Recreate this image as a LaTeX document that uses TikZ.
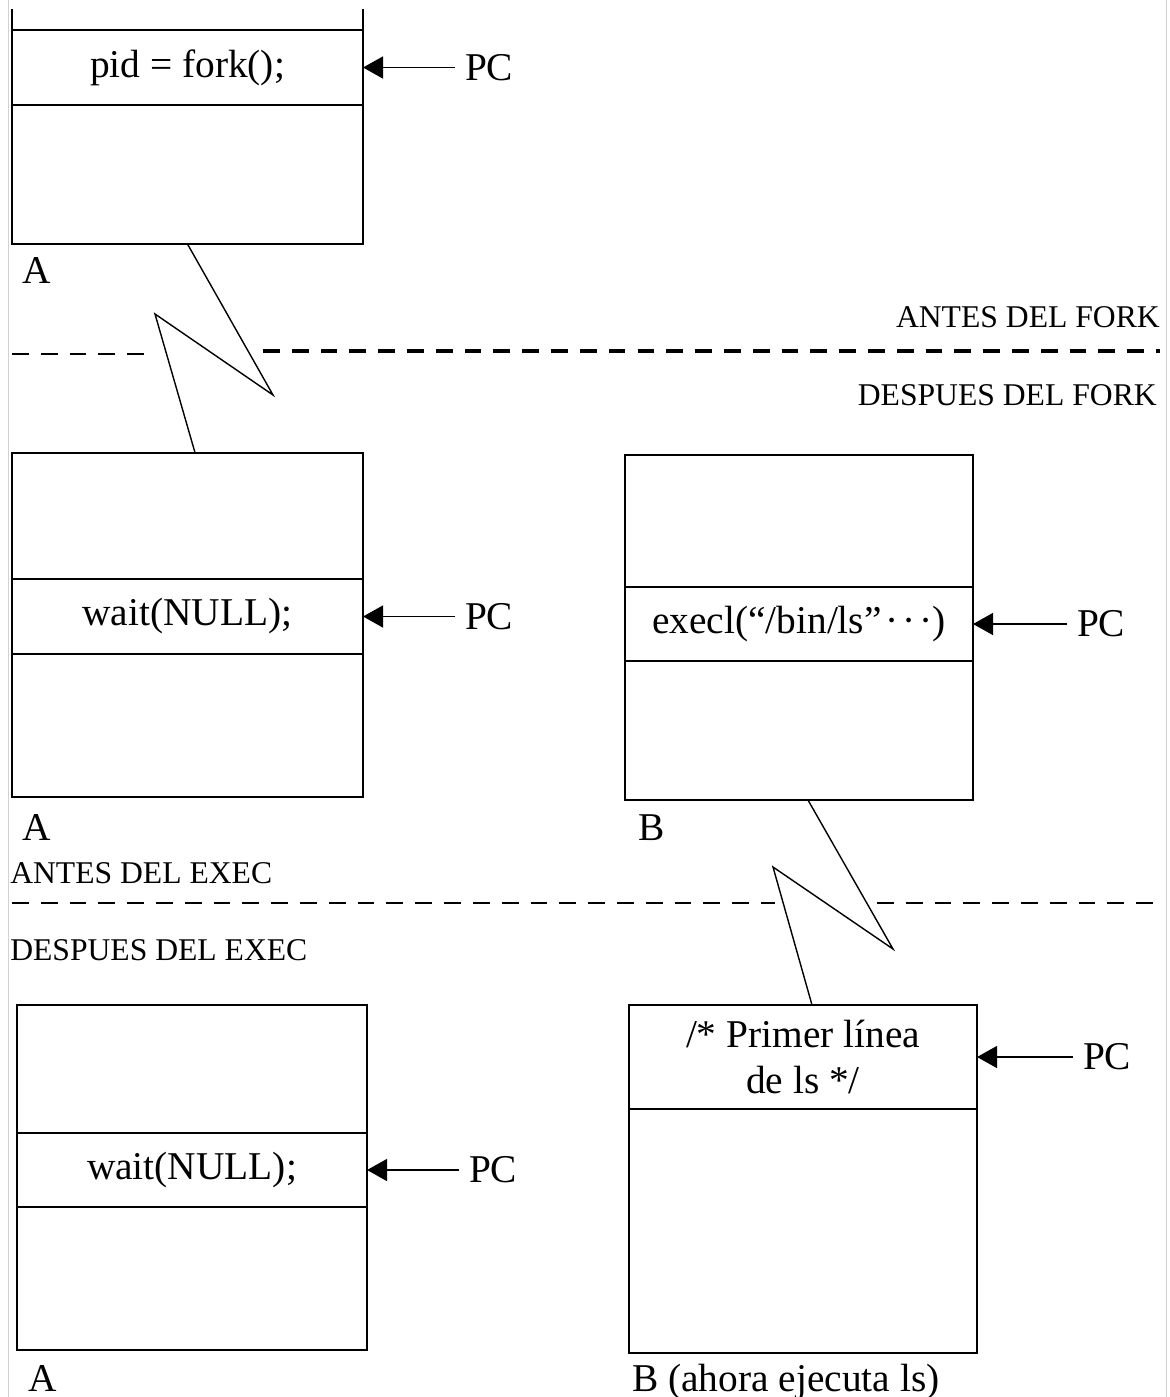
\documentclass[tikz,border=0pt]{standalone}
\usepackage{fontspec}
\setmainfont{Liberation Serif}
\usetikzlibrary{arrows.meta, positioning}
\tikzset{
  seg/.style={draw=black, line width=1.1pt, inner sep=0pt, outer sep=0pt, minimum width=#1},
  seg/.default=8.775cm,
  code/.style={font=\fontsize{28}{33}\selectfont, align=center},
  pc/.style={font=\fontsize{28}{33}\selectfont, inner ysep=0pt, inner xsep=0.25cm, outer sep=0pt},
  pcarrow/.style={-{Triangle[length=0.5cm, width=0.55cm]}, line width=1.1pt},
  tag/.style={font=\fontsize{28}{33}\selectfont, inner sep=0pt},
  phase/.style={font=\fontsize{22.5}{27}\selectfont, inner sep=0pt},
  zigzag/.style={line width=1pt},
  divider/.style={dash pattern=on 0.42cm off 0.3cm, line width=0.9pt},
  frame/.style={draw=gray!35, line width=0.6pt},
}
\begin{document}
\begin{tikzpicture}[x=0.025cm, y=-0.025cm, node distance=0pt]
  \useasboundingbox (0,0) rectangle (1170,1397);
  \draw[frame] (8,0) -- (8,1397);
  \draw[frame] (1166,0) -- (1166,1397);

  % A antes del fork
  \node[seg, code, minimum height=1.875cm] (a1code) at (187.5,67.5) {pid = fork();};
  \node[seg, minimum height=3.475cm, below=of a1code] (a1low) {};
  \draw[line width=1.1pt] (a1code.north west) -- ++(0,-21);
  \draw[line width=1.1pt] (a1code.north east) -- ++(0,-21);
  \node[pc, right=2.3cm of a1code] (pc1) {PC};
  \draw[pcarrow] (pc1) -- (a1code);
  \node[tag, anchor=base west] (a1name) at (22,283) {A};

  \node[phase, anchor=base east] (antesfork) at (1160,327) {ANTES DEL FORK};
  \draw[divider] (12,354) -- (155,354);
  \draw[divider, line width=2.4pt] (263,351) -- (1160,351);
  \node[phase, anchor=base east] (despuesfork) at (1157,405) {DESPUES DEL FORK};

  % A y B despues del fork
  \node[seg, code, minimum height=1.875cm] (a2code) at (187.5,616.5) {wait(NULL);};
  \node[seg, minimum height=3.15cm, above=of a2code] (a2top) {};
  \node[seg, minimum height=3.575cm, below=of a2code] (a2low) {};
  \node[pc, right=2.3cm of a2code] (pc2) {PC};
  \draw[pcarrow] (pc2) -- (a2code);
  \node[tag, anchor=base west] (a2name) at (22,840) {A};

  \node[seg=8.7cm, code, minimum height=1.85cm] (b1code) at (799,624) {execl(“/bin/ls”\hspace{0.1em}·\hspace{0.1em}·\hspace{0.1em}·)};
  \node[seg=8.7cm, minimum height=3.3cm, above=of b1code] (b1top) {};
  \node[seg=8.7cm, minimum height=3.475cm, below=of b1code] (b1low) {};
  \node[pc, right=2.35cm of b1code] (pc3) {PC};
  \draw[pcarrow] (pc3) -- (b1code);
  \node[tag, anchor=base west] (b1name) at (638,840) {B};

  % fork: A -> A
  \coordinate (z1b) at (273,395);
  \coordinate (z1c) at (155,314);
  \draw[zigzag] (a1low.south) -- (z1b) -- (z1c) -- ([xshift=0.19cm]a2top.north);

  \node[phase, anchor=base west] (antesexec) at (10,883) {ANTES DEL EXEC};
  \draw[divider] (12,903) -- (775,903);
  \draw[divider] (877,903) -- (1165,903);
  \node[phase, anchor=base west] (despuesexec) at (10,960) {DESPUES DEL EXEC};

  % A y B despues del exec
  \node[seg=8.75cm, code, minimum height=1.85cm] (a3code) at (192,1170) {wait(NULL);};
  \node[seg=8.75cm, minimum height=3.2cm, above=of a3code] (a3top) {};
  \node[seg=8.75cm, minimum height=3.575cm, below=of a3code] (a3low) {};
  \node[pc, right=2.3cm of a3code] (pc5) {PC};
  \draw[pcarrow] (pc5) -- (a3code);
  \node[tag, anchor=base west] (a3name) at (28,1391) {A};

  \node[seg=8.7cm, code, minimum height=2.6cm] (b2code) at (803,1057) {/* Primer línea\\de ls */};
  \node[seg=8.7cm, minimum height=6.1cm, below=of b2code] (b2low) {};
  \draw[line width=2pt] (b2code.north west) -- (b2code.north east);
  \node[pc, right=2.4cm of b2code] (pc4) {PC};
  \draw[pcarrow] (pc4) -- (b2code);
  \node[tag, anchor=base west] (b2name) at (632,1391) {B (ahora ejecuta ls)};

  % exec: B -> B
  \coordinate (z2b) at (893,949);
  \coordinate (z2c) at (773,867);
  \draw[zigzag] ([xshift=0.225cm]b1low.south) -- (z2b) -- (z2c) -- ([xshift=0.225cm]b2code.north);
\end{tikzpicture}
\end{document}
